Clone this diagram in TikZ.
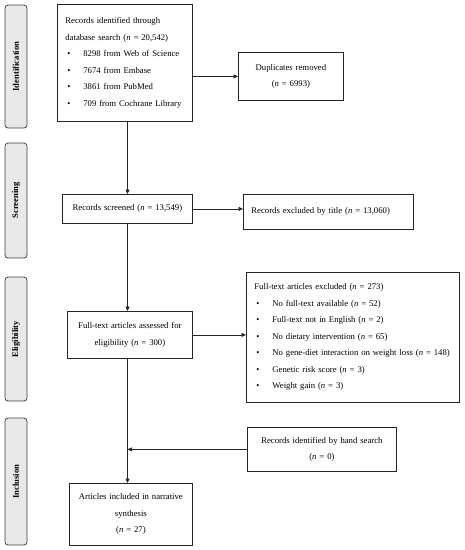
\documentclass[tikz,border=0pt]{standalone}
\usepackage{fontspec}
\setmainfont{Liberation Serif}
\usetikzlibrary{arrows.meta,positioning}

\newcommand{\itm}[1]{\hspace*{2pt}\makebox[16pt][l]{\textbullet}#1}
\newcommand{\nn}{\textit{n}}

\begin{document}
\begin{tikzpicture}[x=1pt,y=-1pt,
		font=\fontsize{8.7}{16.5}\selectfont,
		box/.style={draw=black!85,line width=0.8pt,inner xsep=8pt,inner ysep=0pt,anchor=north west},
		phase/.style={draw=black!75,fill=gray!18,rounded corners=3pt,line width=0.8pt,
			minimum height=22pt,inner sep=0pt,rotate=90,font=\fontsize{8.6}{9}\selectfont\bfseries},
		arr/.style={-{Triangle[length=4.5pt,width=4pt]},line width=0.7pt,draw=black!85}]
	\useasboundingbox (0,0) rectangle (465,550);
	% phases
	\node[phase,minimum width=123pt] (id) at (16,66.5) {Identification};
	\node[phase,minimum width=115pt] (sc) at (16,200.5) {Screening};
	\node[phase,minimum width=124pt] (el) at (16,339) {Eligibility};
	\node[phase,minimum width=127pt] (in) at (16,481.5) {Inclusion};
	%
	\node[box,minimum width=135pt,minimum height=117pt,text width=119pt,align=left] (rec) at (57,4)
		{Records identified through\\ database search (\nn{} = 20,542)\\
		\itm{8298 from Web of Science}\\ \itm{7674 from Embase}\\
		\itm{3861 from PubMed}\\ \itm{709 from Cochrane Library}};
	\node[box,minimum width=105pt,minimum height=48pt,text width=89pt,align=center] (dup) at (238,52)
		{Duplicates removed\\ (\nn{} = 6993)};
	\node[box,minimum width=130pt,minimum height=29pt,text width=114pt,align=center] (scr) at (62,194)
		{Records screened (\nn{} = 13,549)};
	\node[box,minimum width=170pt,minimum height=35pt,text width=154pt,align=left] (ttl) at (243,194)
		{Records excluded by title (\nn{} = 13,060)};
	\node[box,minimum width=125pt,minimum height=47pt,text width=109pt,align=center] (ft) at (67,311)
		{Full-text articles assessed for\\ eligibility (\nn{} = 300)};
	\node[box,minimum width=213pt,minimum height=130pt,text width=197pt,align=left] (ftx) at (246,272)
		{Full-text articles excluded (\nn{} = 273)\\
		\itm{No full-text available (\nn{} = 52)}\\
		\itm{Full-text not in English (\nn{} = 2)}\\
		\itm{No dietary intervention (\nn{} = 65)}\\
		\itm{No gene-diet interaction on weight loss (\nn{} = 148)}\\
		\itm{Genetic risk score (\nn{} = 3)}\\
		\itm{Weight gain (\nn{} = 3)}};
	\node[box,minimum width=149pt,minimum height=44pt,text width=133pt,align=center] (hand) at (247,427)
		{Records identified by hand search\\ (\nn{} = 0)};
	\node[box,minimum width=123pt,minimum height=62pt,text width=107pt,align=center] (inc) at (69,483)
		{Articles included in narrative\\ synthesis\\ (\nn{} = 27)};
	%
	\coordinate (sp) at (127.5,0);
	\draw[arr] (rec.south -| sp) -- (scr.north -| sp);
	\draw[arr] (scr.south -| sp) -- (ft.north -| sp);
	\draw[arr] (ft.south -| sp) -- (inc.north -| sp);
	\draw[arr] (hand.west) -- (hand.west -| sp);
	\draw[arr] (rec.east |- dup.west) -- (dup.west);
	\draw[arr] (scr.east) -- (scr.east -| ttl.west);
	\draw[arr] (ft.east) -- (ft.east -| ftx.west);
\end{tikzpicture}
\end{document}
